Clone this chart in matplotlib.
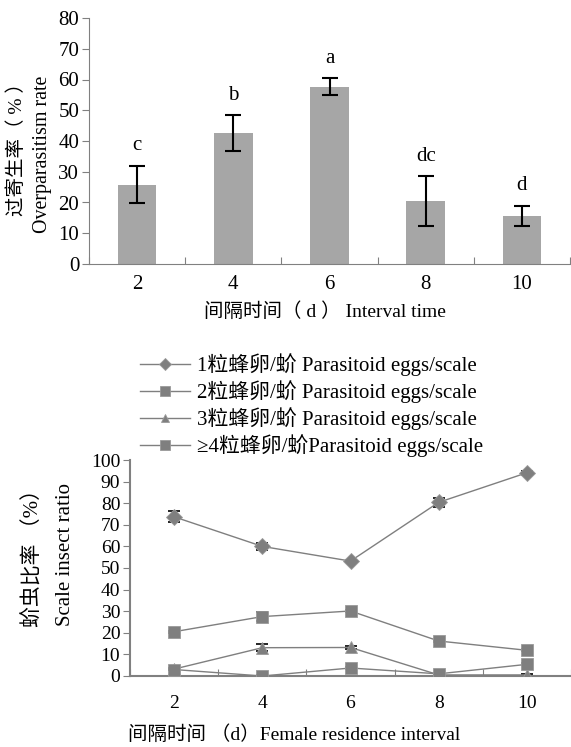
import numpy as np
import matplotlib.pyplot as plt

plt.rcParams['font.family'] = ['Liberation Serif', 'Noto Sans CJK SC']
plt.rcParams['axes.unicode_minus'] = False

# 上图：过寄生率
intervals = ['2', '4', '6', '8', '10']
over_rate = [25.8, 42.6, 57.6, 20.5, 15.6]
over_err = [6.0, 5.7, 2.8, 8.0, 3.4]
over_letters = ['c', 'b', 'a', 'dc', 'd']

# 下图：蚧虫比率
egg1 = [73.7, 60.0, 53.2, 80.4, 94.1]
egg1_err = [2.5, 1.5, 0.5, 2.0, 1.0]
egg2 = [20.5, 27.5, 30.1, 16.2, 11.9]
egg2_err = [0.5, 2.0, 0.5, 0.5, 0.5]
egg3 = [3.2, 13.1, 13.2, 0.5, 0.5]
egg3_err = [0.3, 1.5, 0.8, 0.3, 0.3]
egg4 = [3.0, 0.0, 3.7, 1.0, 5.4]
egg4_err = [0.3, 0.3, 0.5, 0.3, 0.5]
series_labels = ['1粒蜂卵/蚧 Parasitoid eggs/scale',
                 '2粒蜂卵/蚧 Parasitoid eggs/scale',
                 '3粒蜂卵/蚧 Parasitoid eggs/scale',
                 '≥4粒蜂卵/蚧Parasitoid eggs/scale']

W, H = 571, 747
fig = plt.figure(figsize=(W / 100, H / 100), dpi=100)
spine_c = '#808080'

# ---------- 上图 ----------
ax1 = fig.add_axes([89 / W, 1 - 264 / H, (570 - 89) / W, 246 / H])
x = np.arange(len(intervals))
ax1.bar(x, over_rate, width=0.4, color='#a6a6a6')
ax1.errorbar(x, over_rate, yerr=over_err, fmt='none', ecolor='black',
             elinewidth=1.5, capsize=6, capthick=1.5)
for xi, v, e, t in zip(x, over_rate, over_err, over_letters):
    ax1.text(xi, v + e + 3.5, t, ha='center', va='bottom', fontsize=15)
ax1.set_xlim(-0.5, 4.5)
ax1.set_ylim(0, 80)
ax1.set_yticks(range(0, 81, 10))
ax1.set_xticks(np.arange(-0.5, 4.6, 1))
ax1.set_xticklabels([])
ax1.set_xticks(x, minor=True)
ax1.set_xticklabels(intervals, minor=True, fontsize=15)
ax1.tick_params(axis='x', which='major', direction='in', length=5, color=spine_c)
ax1.tick_params(axis='x', which='minor', length=0, pad=8)
ax1.tick_params(axis='y', direction='out', length=5, color=spine_c, labelsize=15, pad=2)
for s in ['top', 'right']:
    ax1.spines[s].set_visible(False)
for s in ['left', 'bottom']:
    ax1.spines[s].set_color(spine_c)
fig.text(325 / W, 1 - 312 / H, '间隔时间（ d ） Interval time', fontsize=14,
         ha='center', va='center')
fig.text(17 / W, 1 - 145 / H, '过寄生率（ % ）', fontsize=14, rotation=90,
         ha='center', va='center')
fig.text(43 / W, 1 - 154 / H, 'Overparasitism rate', fontsize=14.4, rotation=90,
         ha='center', va='center')

# ---------- 下图 ----------
ax2 = fig.add_axes([130 / W, 1 - 676 / H, 1 - 130 / W, 216 / H])
mk = '#7f7f7f'
styles = [('D', 8), ('s', 9), ('^', 8), ('s', 9)]
data = [(egg1, egg1_err), (egg2, egg2_err), (egg3, egg3_err), (egg4, egg4_err)]
handles = []
for (vals, errs), (m, ms), lab in zip(data, styles, series_labels):
    ax2.errorbar(x, vals, yerr=errs, fmt='none', ecolor='black',
                 elinewidth=1.2, capsize=4, capthick=1.2, zorder=2)
    h, = ax2.plot(x, vals, color=mk, lw=1.0, marker=m, markersize=ms,
                  markerfacecolor=mk, markeredgecolor='#9a9a9a',
                  markeredgewidth=0.6, label=lab, zorder=3)
    handles.append(h)
ax2.set_xlim(-0.5, 4.5)
ax2.set_ylim(0, 100)
ax2.set_yticks(range(0, 101, 10))
ax2.set_xticks(np.arange(-0.5, 4.6, 1))
ax2.set_xticklabels([])
ax2.set_xticks(x, minor=True)
ax2.set_xticklabels(intervals, minor=True, fontsize=14)
ax2.tick_params(axis='x', which='major', direction='in', length=5, color=spine_c)
ax2.tick_params(axis='x', which='minor', length=0, pad=14)
ax2.tick_params(axis='y', direction='out', length=5, color=spine_c, labelsize=14, pad=2)
for s in ['top', 'right']:
    ax2.spines[s].set_visible(False)
for s in ['left', 'bottom']:
    ax2.spines[s].set_color(spine_c)
    ax2.spines[s].set_linewidth(1.5)
fig.text(128 / W, 1 - 735 / H, '间隔时间 （d）Female residence interval',
         fontsize=14, ha='left', va='center')
fig.text(34 / W, 1 - 553 / H, '蚧虫比率 （%）', fontsize=15, rotation=90,
         ha='center', va='center')
fig.text(65 / W, 1 - 555 / H, 'Scale insect ratio', fontsize=15, rotation=90,
         ha='center', va='center')

fig.legend(handles=handles, loc='upper left', bbox_to_anchor=(140 / W, 1 - 353 / H),
           frameon=False, fontsize=15, handlelength=2.4, handletextpad=0.34,
           labelspacing=0.2, borderaxespad=0, borderpad=0, markerscale=0.8)

fig.savefig('out.png', dpi=100)
